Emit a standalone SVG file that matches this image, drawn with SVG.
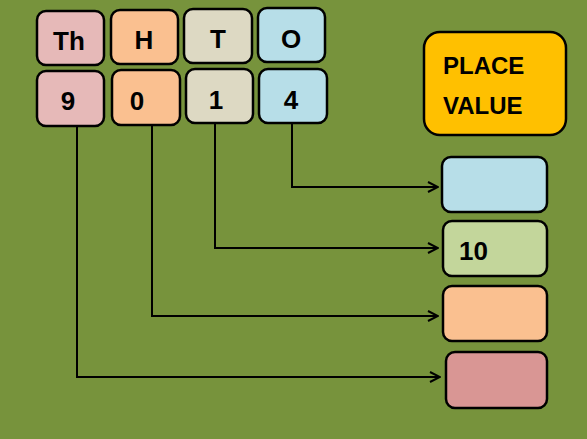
<svg xmlns="http://www.w3.org/2000/svg" width="587" height="439" viewBox="0 0 587 439">
<style>
.b{stroke:#000;stroke-width:2.5}
.t{font-family:"Liberation Sans",Arial,sans-serif;font-weight:bold;font-size:26px;fill:#000;text-anchor:middle}
.c{fill:none;stroke:#000;stroke-width:2}
</style>
<defs>
<marker id="a" viewBox="0 0 12 12" refX="11" refY="6" markerWidth="12" markerHeight="12" markerUnits="userSpaceOnUse" orient="auto">
<path d="M1,1 L11,6 L1,11" fill="none" stroke="#000" stroke-width="2"/>
</marker>
</defs>
<rect width="587" height="439" fill="#77933C"/>
<g id="connectors">
<path class="c" d="M292,123 V187 H438" marker-end="url(#a)"/>
<path class="c" d="M215,123 V248 H438" marker-end="url(#a)"/>
<path class="c" d="M152,125 V316 H438" marker-end="url(#a)"/>
<path class="c" d="M77,126 V377 H440" marker-end="url(#a)"/>
</g>
<g id="th"><rect class="b" x="37" y="11" width="67" height="54" rx="9" fill="#E6B9B8"/><text class="t" x="69" y="50">Th</text></g>
<g id="h"><rect class="b" x="111" y="10" width="67" height="54" rx="9" fill="#FAC090"/><text class="t" x="144" y="49">H</text></g>
<g id="t"><rect class="b" x="184" y="9" width="68" height="54" rx="9" fill="#DDD9C3"/><text class="t" x="218" y="48">T</text></g>
<g id="o"><rect class="b" x="258" y="8" width="67" height="54" rx="9" fill="#B7DEE8"/><text class="t" x="291" y="48">O</text></g>
<g id="n9"><rect class="b" x="37" y="71" width="67" height="55" rx="9" fill="#E6B9B8"/><text class="t" x="68" y="110">9</text></g>
<g id="n0"><rect class="b" x="112" y="70" width="68" height="55" rx="9" fill="#FAC090"/><text class="t" x="137" y="110">0</text></g>
<g id="n1"><rect class="b" x="186" y="69" width="67" height="54" rx="9" fill="#DDD9C3"/><text class="t" x="216" y="109">1</text></g>
<g id="n4"><rect class="b" x="259" y="69" width="68" height="54" rx="9" fill="#B7DEE8"/><text class="t" x="291" y="109">4</text></g>
<g id="pv"><rect class="b" x="424" y="32" width="142" height="103" rx="16" fill="#FFC000"/><text class="t" x="443" y="74" style="text-anchor:start;font-size:24px">PLACE</text><text class="t" x="443" y="114" style="text-anchor:start;font-size:24px">VALUE</text></g>
<g id="r1"><rect class="b" x="442" y="157" width="105" height="55" rx="9" fill="#B7DEE8"/></g>
<g id="r2"><rect class="b" x="443" y="221" width="104" height="55" rx="9" fill="#C3D69B"/><text class="t" x="459" y="260" style="text-anchor:start">10</text></g>
<g id="r3"><rect class="b" x="443" y="286" width="104" height="55" rx="9" fill="#FAC090"/></g>
<g id="r4"><rect class="b" x="446" y="352" width="101" height="56" rx="9" fill="#D99694"/></g>
</svg>
